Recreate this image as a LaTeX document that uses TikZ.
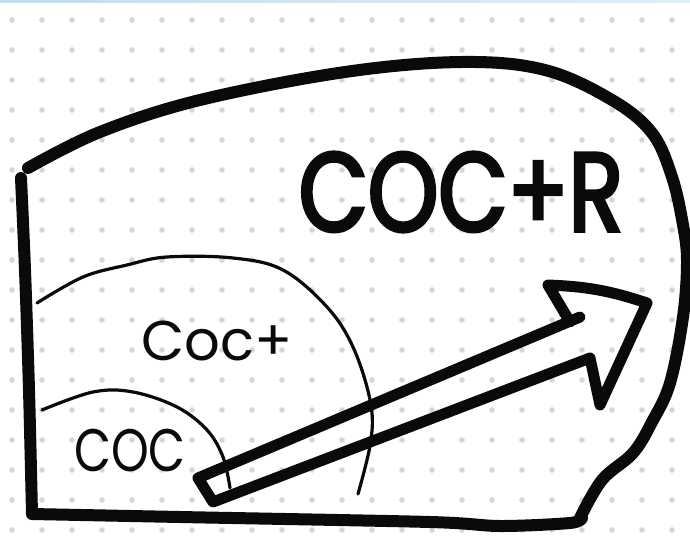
\documentclass[tikz,border=0pt]{standalone}
\usepackage{fontspec}
\setmainfont{Poppins}
\newfontfamily\handfont[FakeStretch=0.8]{Poppins}
\newfontfamily\handbold[FakeStretch=0.8,FakeBold=3]{Poppins}
\usepackage{tikz}
\usetikzlibrary{calc}
\definecolor{ink}{HTML}{0A0A0A}
\definecolor{dotgrey}{HTML}{D6D6D6}
\definecolor{edgeblue}{HTML}{C4DCEC}
\tikzset{
  outline/.style={draw=ink,line width=12pt,line cap=round,line join=round},
  ring/.style={draw=ink,line width=3.2pt,line cap=round},
  hollowarrow/.style={draw=ink,line width=11pt,line cap=round,line join=round},
  griddot/.style={fill=dotgrey},
  bigtext/.style={inner sep=0pt,text=ink,font=\handbold\fontsize{112}{112}\selectfont},
  midtext/.style={inner sep=0pt,text=ink,font=\fontsize{56}{56}\selectfont},
  lowtext/.style={inner sep=0pt,text=ink,font=\handfont\fontsize{60}{60}\selectfont}
}
\begin{document}
\begin{tikzpicture}[x=1pt,y=-1pt]
  \useasboundingbox (0,0) rectangle (690,540);
  \fill[white] (0,0) rectangle (690,540);
  \shade[left color=edgeblue,right color=edgeblue!50] (0,0) rectangle (690,3);
  % dotted paper
  \foreach \i in {0,...,22}
    \foreach \j in {0,...,17}
      \fill[griddot] (12+30*\i,20+30*\j) circle (2.8pt);

  % frame
  \draw[outline] plot[smooth,tension=0.5] coordinates {(21,178) (25,270) (29,390) (32,514)}
    plot[smooth,tension=0.5] coordinates {(32,514) (180,517) (430,522) (500,526) (570,523) (582,518)};
  \draw[outline] plot[smooth,tension=0.6] coordinates {(28,168) (100,132) (200,100) (345,72) (462,62)
    (545,70) (612,100) (652,133) (672,177) (683,225) (687,262) (683,317) (670,383) (652,422)
    (633,453) (602,480) (580,518)};

  % nested regions
  \draw[ring] plot[smooth,tension=0.6] coordinates {(37,303) (83,277) (127,265) (167,257) (233,258)
    (283,270) (327,307) (353,347) (370,400) (371,440) (358,494)};
  \draw[ring] plot[smooth,tension=0.6] coordinates {(42,410) (93,392) (133,392) (177,407) (207,430)
    (223,457) (230,488)};

  % growth arrow
  \coordinate (tailtop) at (198,478);
  \coordinate (tailbot) at (213,502);
  \coordinate (notchlow) at (590,358);
  \coordinate (headlow) at (600,405);
  \coordinate (headtip) at (647,303);
  \coordinate (headtop) at (548,285);
  \coordinate (notchup) at (570,322);
  \draw[hollowarrow] (580,317) -- (tailtop) -- (tailbot) -- (notchlow) -- (headlow)
    -- (headtip) to[bend right=8] (headtop) -- (notchup);

  \node[bigtext] (cocr) at (461,192) {COC+R};
  \node[midtext] (cocplus) at (217,341) {Coc+};
  \node[lowtext] (coc) at (130,451) {COC};
\end{tikzpicture}
\end{document}
